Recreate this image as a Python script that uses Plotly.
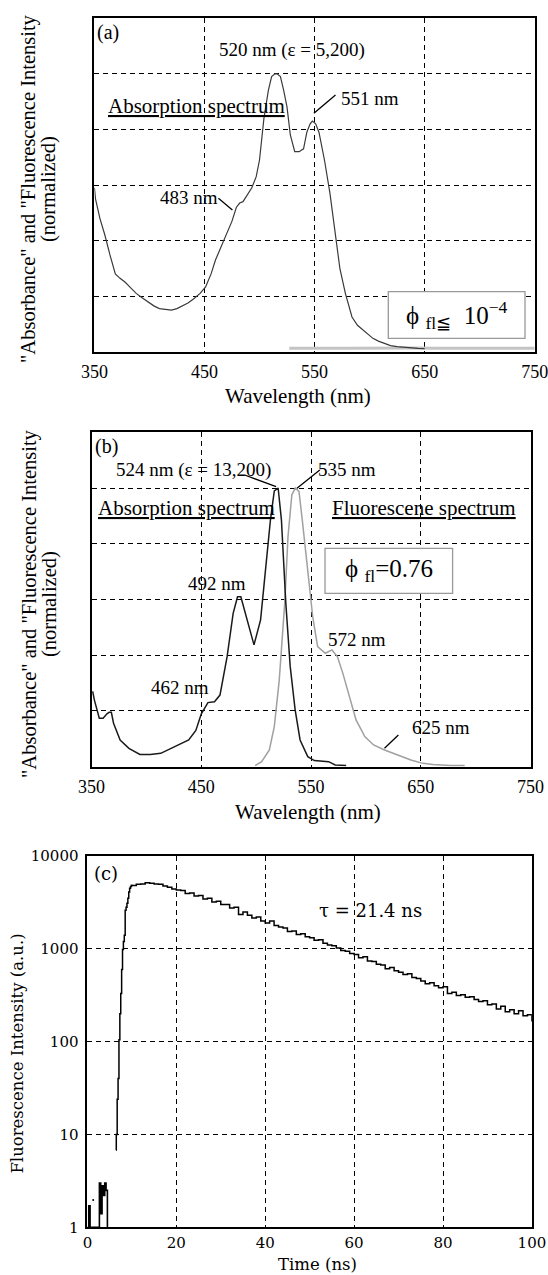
import plotly.graph_objects as go

W, H = 548, 1275
FONT = "Liberation Serif, Times New Roman, DejaVu Serif, serif"
FONT_C = "DejaVu Serif, serif"

# ---------------- Panel (a) data ----------------
a_wl = [350, 351, 355, 359.5, 364, 369, 373, 378, 383, 388, 393, 398, 404, 409, 415, 420, 425,
        429, 435, 440, 446, 451, 456, 460, 465, 470, 475, 479, 482, 485, 489, 493, 497, 500, 504,
        508, 511, 514, 516, 519, 522, 525, 528, 532, 536, 540, 543, 546, 548, 551, 554, 559, 564,
        569, 573, 578, 584, 589, 594, 599, 603, 608, 613, 619, 625, 635, 644, 650]
a_abs = [0.59, 0.55, 0.48, 0.42, 0.35, 0.28, 0.265, 0.25, 0.23, 0.21, 0.195, 0.18, 0.165, 0.155,
         0.152, 0.15, 0.155, 0.164, 0.175, 0.19, 0.21, 0.233, 0.28, 0.33, 0.375, 0.42, 0.47,
         0.52, 0.535, 0.54, 0.565, 0.59, 0.63, 0.69, 0.84, 0.94, 0.99, 1.0, 1.0, 0.99, 0.94, 0.88,
         0.78, 0.72, 0.72, 0.73, 0.79, 0.82, 0.83, 0.82, 0.79, 0.69, 0.57, 0.42, 0.30, 0.21, 0.125,
         0.095, 0.078, 0.06, 0.048, 0.038, 0.03, 0.022, 0.018, 0.014, 0.012, 0.011]
a_fl_wl = [527, 545, 560, 580, 600, 620, 640, 660, 680, 700, 720, 740, 750]
a_fl = [0.012, 0.013, 0.012, 0.012, 0.013, 0.012, 0.013, 0.012, 0.012, 0.013, 0.012, 0.012, 0.012]

# ---------------- Panel (b) data ----------------
b_wl = [351, 352.5, 357, 360.5, 364, 366, 368, 370, 376, 384, 394, 403.5, 413, 419, 429, 438.5,
        445, 450, 456, 462, 467, 473.5, 479, 483, 486, 491, 498, 504, 508.5, 513, 516.5, 520,
        523, 527, 531, 535.5, 540, 547, 553, 566, 572, 582]
b_abs = [0.27, 0.24, 0.174, 0.174, 0.19, 0.195, 0.195, 0.156, 0.096, 0.066, 0.044, 0.044, 0.048,
         0.06, 0.078, 0.096, 0.13, 0.19, 0.23, 0.233, 0.257, 0.395, 0.55, 0.61, 0.61, 0.54, 0.437,
         0.527, 0.707, 0.886, 0.99, 1.0, 0.886, 0.587, 0.36, 0.204, 0.096, 0.036, 0.022, 0.018,
         0.006, 0.004]
b_fl_wl = [499, 505, 512, 516.5, 521, 526, 529, 532.5, 535.7, 539, 542, 547, 551.5, 556, 563,
           569, 574, 579, 585, 591, 599, 607, 617, 629.5, 641, 652, 661, 677, 690]
b_fl = [0.004, 0.018, 0.06, 0.144, 0.31, 0.587, 0.826, 0.976, 1.0, 0.988, 0.886, 0.695, 0.539,
        0.431, 0.407, 0.419, 0.395, 0.335, 0.251, 0.168, 0.108, 0.078, 0.06, 0.042, 0.024, 0.012,
        0.008, 0.004, 0.004]

# ---------------- Panel (c) data ----------------
c_noise_t = [0.0, 0.3, 0.6, 2.4, 2.7, 3.0, 3.3, 3.6, 3.9, 4.2, 4.5]
c_noise_v = [1.0, 1.7, 1.0, 1.0, 3.0, 1.4, 2.8, 2.2, 3.0, 2.5, 1.0]
c_dot_t = [1.3]
c_dot_v = [1.97]
c_t = [6.4, 6.5, 6.7, 6.9, 7.1, 7.3, 7.5, 7.7, 7.9, 8.1, 8.3, 8.5, 8.7, 8.9, 9.1, 9.3, 9.5, 9.7,
       9.9, 10, 11, 12, 13, 14, 15, 16, 17, 18, 19, 20, 21, 22, 23, 24, 25, 26, 27, 28, 29, 30,
       31, 32, 33, 34, 35, 36, 37, 38, 39, 40, 41, 42, 43, 44, 45, 46, 47, 48, 49, 50, 51, 52,
       53, 54, 55, 56, 57, 58, 59, 60, 61, 62, 63, 64, 65, 66, 67, 68, 69, 70, 71, 72, 73, 74,
       75, 76, 77, 78, 79, 80, 81, 82, 83, 84, 85, 86, 87, 88, 89, 90, 91, 92, 93, 94, 95, 96,
       97, 98, 99, 100]
c_v = [6.8, 10, 24, 40, 105, 200, 330, 600, 985, 1200, 1400, 2600, 2800, 3100, 3500, 4100, 4500,
       4700, 4850, 4800, 4950, 5000, 5150, 5100, 5000, 4950, 4750, 4600, 4400,
       4300, 4250, 3950, 4000, 3700, 3750, 3450, 3500, 3200, 3250,
       3000, 3000, 2750, 2800, 2350, 2500, 2300, 2150, 2200, 2000,
       1900, 2000, 1780, 1720, 1680, 1540, 1560, 1430, 1450, 1350,
       1320, 1240, 1250, 1150, 1100, 1080, 1020, 960, 940, 890,
       870, 800, 820, 740, 730, 680, 670, 610, 630, 580,
       560, 530, 540, 490, 480, 450, 420, 430, 400, 380,
       390, 330, 340, 315, 320, 300, 305, 285, 270, 275,
       250, 255, 225, 240, 210, 220, 200, 215, 190, 195, 165]

# tick labels
wl_ticks = [350, 450, 550, 650, 750]
t_ticks = [0, 20, 40, 60, 80, 100]
log_ticks = [1, 10, 100, 1000, 10000]
log_labels = ["1", "10", "100", "1000", "10000"]


def px(x, y):
    return x / W, 1 - y / H


fig = go.Figure()
fig.add_trace(go.Scatter(x=a_fl_wl, y=a_fl, mode="lines", line=dict(color="#c4c4c4", width=3),
                         xaxis="x", yaxis="y", showlegend=False))
fig.add_trace(go.Scatter(x=a_wl, y=a_abs, mode="lines", line=dict(color="#3a3a3a", width=1.2),
                         xaxis="x", yaxis="y", showlegend=False))
fig.add_trace(go.Scatter(x=b_fl_wl, y=b_fl, mode="lines", line=dict(color="#a0a0a0", width=1.5),
                         xaxis="x2", yaxis="y2", showlegend=False))
fig.add_trace(go.Scatter(x=b_wl, y=b_abs, mode="lines", line=dict(color="#1a1a1a", width=1.5),
                         xaxis="x2", yaxis="y2", showlegend=False))
fig.add_trace(go.Scatter(x=c_noise_t, y=c_noise_v, mode="lines", line=dict(color="black", width=1.6, shape="hv"),
                         xaxis="x3", yaxis="y3", showlegend=False))
fig.add_trace(go.Scatter(x=c_dot_t, y=c_dot_v, mode="markers", marker=dict(color="black", size=2),
                         xaxis="x3", yaxis="y3", showlegend=False))
fig.add_trace(go.Scatter(x=c_t, y=c_v, mode="lines", line=dict(color="black", width=1.5, shape="hv"),
                         xaxis="x3", yaxis="y3", showlegend=False))

base = dict(showgrid=True, gridcolor="black", gridwidth=1.2, griddash="5px,4px",
            showline=True, linecolor="black", linewidth=1.8, mirror=True, zeroline=False,
            ticks="", automargin=False, ticklabeloverflow="allow")
grid = dict(base, tickfont=dict(family=FONT, size=18, color="black"))
grid_c = dict(base, tickfont=dict(family=FONT_C, size=15, color="black"))


def dom(x0, x1, y0, y1):
    return [x0 / W, x1 / W], [1 - y1 / H, 1 - y0 / H]


xa, ya = dom(94.4, 534.7, 18.3, 351.7)
xb, yb = dom(91.6, 530.5, 432.3, 766.7)
xc, yc = dom(87.4, 531.9, 856, 1227.3)

fig.update_layout(
    width=W, height=H, margin=dict(l=0, r=0, t=0, b=0, pad=0, autoexpand=False),
    paper_bgcolor="white", plot_bgcolor="white",
    font=dict(family=FONT, color="black"),
    xaxis=dict(domain=xa, anchor="y", range=[350, 750], tickvals=wl_ticks, ticklabelstandoff=3, **grid),
    yaxis=dict(domain=ya, anchor="x", range=[0, 1.2], dtick=0.2, showticklabels=False, **grid),
    xaxis2=dict(domain=xb, anchor="y2", range=[350, 750], tickvals=wl_ticks, ticklabelstandoff=3, **grid),
    yaxis2=dict(domain=yb, anchor="x2", range=[0, 1.2], dtick=0.2, showticklabels=False, **grid),
    xaxis3=dict(domain=xc, anchor="y3", range=[0, 100], tickvals=t_ticks, ticklabelstandoff=1, **grid_c),
    yaxis3=dict(domain=yc, anchor="x3", type="log", range=[0, 4], tickvals=log_ticks,
                ticktext=log_labels, ticklabelstandoff=4, **grid_c),
)

anns = []


def text(x, y, s, size=19, angle=0, family=FONT):
    X, Y = px(x, y)
    anns.append(dict(x=X, y=Y, xref="paper", yref="paper", text=s, showarrow=False,
                     xanchor="center", yanchor="middle", textangle=angle,
                     font=dict(family=family, size=size, color="black")))


shapes = []


def seg(x0, y0, x1, y1, color="black", width=1.3):
    X0, Y0 = px(x0, y0)
    X1, Y1 = px(x1, y1)
    shapes.append(dict(type="line", xref="paper", yref="paper", x0=X0, y0=Y0, x1=X1, y1=Y1,
                       line=dict(color=color, width=width)))


def box(x0, y0, x1, y1):
    X0, Y0 = px(x0, y0)
    X1, Y1 = px(x1, y1)
    shapes.append(dict(type="rect", xref="paper", yref="paper", x0=X0, y0=Y1, x1=X1, y1=Y0,
                       line=dict(color="#999999", width=1.3), fillcolor="white", layer="above"))


YT = "\"Absorbance\" and \"Fluorescence Intensity"

# panel (a)
text(108, 32, "(a)", size=20)
text(292, 50, "520 nm (ε = 5,200)")
text(196, 106, "<u>Absorption spectrum</u>", size=21)
text(370, 99, "551 nm")
text(189, 197, "483 nm")
seg(335.5, 95, 313.9, 113.3)
seg(218.4, 198.3, 232.4, 210)
box(388.3, 291.7, 525, 338.3)
text(456, 315, "ϕ <sub>fl≦</sub>  10<sup>−4</sup>", size=25)
text(298, 396, "Wavelength (nm)", size=21)
text(29, 189, YT, size=20.5, angle=-90)
text(49, 189, "(normalized)", size=20.5, angle=-90)

# panel (b)
text(106.7, 446, "(b)", size=20)
text(193, 470, "524 nm (ε = 13,200)")
text(347, 469, "535 nm")
text(186, 508, "<u>Absorption spectrum</u>", size=21)
text(424, 508, "<u>Fluorescene spectrum</u>", size=21)
box(325, 548.3, 452.6, 593.3)
text(389, 571, "ϕ <sub>fl</sub>=0.76", size=25)
text(217, 583, "492 nm")
text(180, 687, "462 nm")
text(357, 639, "572 nm")
text(441, 728, "625 nm")
seg(244.7, 475, 276.1, 486.7)
seg(319.8, 470, 297, 488.3)
seg(398.4, 735, 384.5, 748.3)
text(307.6, 812, "Wavelength (nm)", size=21)
text(29, 604, YT, size=20.5, angle=-90)
text(49, 604, "(normalized)", size=20.5, angle=-90)

# panel (c)
text(106, 873, "(c)", size=18, family=FONT_C)
text(370, 910, "τ = 21.4 ns", size=18, family=FONT_C)
text(317, 1264, "Time (ns)", size=16.5, family=FONT_C)
text(16.6, 1054, "Fluorescence Intensity (a.u.)", size=16.5, angle=-90, family=FONT_C)

fig.update_layout(annotations=anns, shapes=shapes)
fig.write_html("out.html", config={"displayModeBar": False},
               post_script="document.body.style.margin='0';document.body.style.padding='0';")
